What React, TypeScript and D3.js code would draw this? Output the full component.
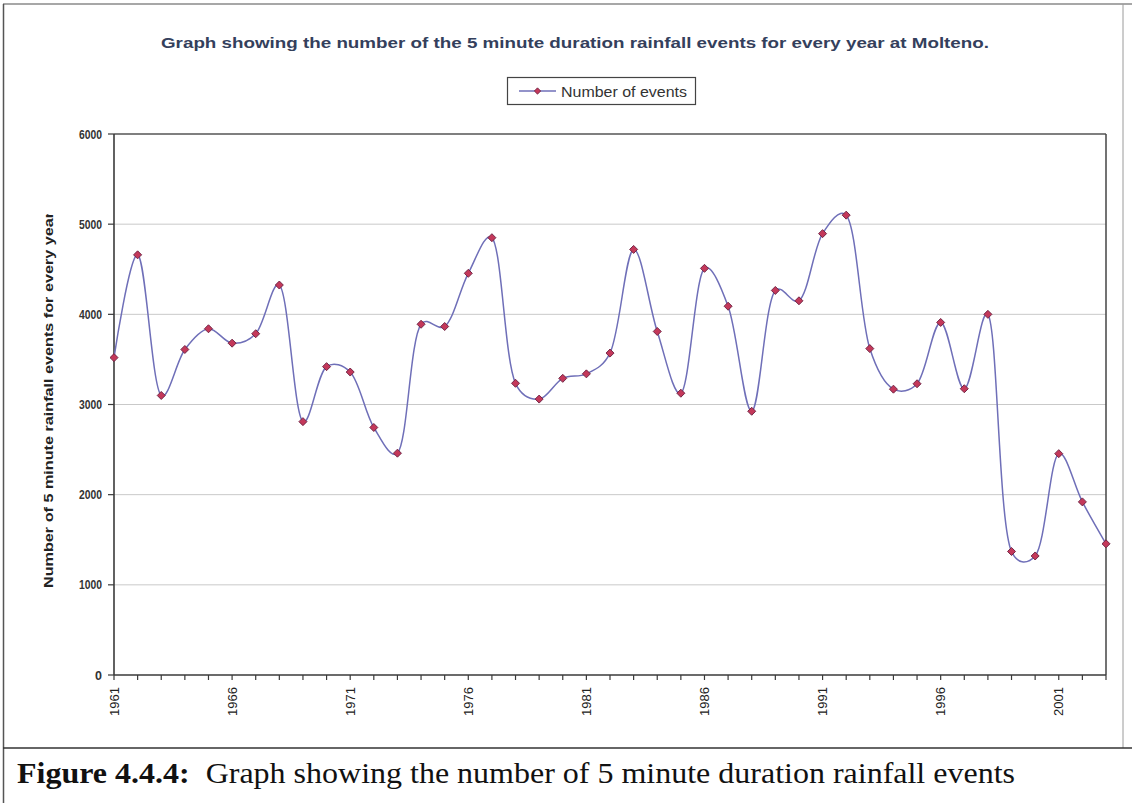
import React from "react";
import * as d3 from "d3";

const years: number[] = [
  1961, 1962, 1963, 1964, 1965, 1966, 1967, 1968, 1969, 1970,
  1971, 1972, 1973, 1974, 1975, 1976, 1977, 1978, 1979, 1980,
  1981, 1982, 1983, 1984, 1985, 1986, 1987, 1988, 1989, 1990,
  1991, 1992, 1993, 1994, 1995, 1996, 1997, 1998, 1999, 2000,
  2001, 2002, 2003,
];
const events: number[] = [
  3520, 4660, 3100, 3610, 3840, 3680, 3785, 4325, 2810, 3420,
  3360, 2745, 2460, 3890, 3865, 4455, 4850, 3235, 3060, 3290,
  3340, 3570, 4720, 3810, 3125, 4510, 4090, 2925, 4265, 4150,
  4895, 5100, 3620, 3170, 3230, 3910, 3175, 4000, 1370, 1320,
  2455, 1920, 1455,
];
const yTicks: number[] = [0, 1000, 2000, 3000, 4000, 5000, 6000];
const xLabelYears: number[] = [1961, 1966, 1971, 1976, 1981, 1986, 1991, 1996, 2001];

const titleText = "Graph showing the number of the 5 minute duration rainfall events for every year at Molteno.";
const legendText = "Number of events";
const yAxisTitle = "Number of 5 minute rainfall events for every year";
const captionBold = "Figure 4.4.4:";
const captionRest = " Graph showing the number of 5 minute duration rainfall events";

const W = 1132;
const H = 803;
const plot = { left: 114, right: 1106, top: 134, bottom: 675 };

const LINE = "#6f6fb8";
const MFILL = "#c4385a";
const MSTROKE = "#6e2343";
const AXIS = "#3a3a3a";
const GRID = "#c9c9c9";
const SANS = "'Liberation Sans', Arial, sans-serif";

export default function App() {
  const x = d3.scaleLinear().domain([years[0], years[years.length - 1]]).range([plot.left, plot.right]);
  const y = d3.scaleLinear().domain([0, 6000]).range([plot.bottom, plot.top]);
  const data = years.map((yr, i) => ({ yr, v: events[i] }));
  const line = d3
    .line<{ yr: number; v: number }>()
    .x((d) => x(d.yr))
    .y((d) => y(d.v))
    .curve(d3.curveCatmullRom.alpha(0.3));
  const marker = d3.symbol().type(d3.symbolSquare).size(32)() as string;
  const legendMarker = d3.symbol().type(d3.symbolSquare).size(20)() as string;

  return (
    <svg
      width={W}
      height={H}
      viewBox={`0 0 ${W} ${H}`}
      style={{ position: "absolute", left: 0, top: 0, background: "#fff" }}
    >
      <defs>
        <clipPath id="ytclip">
          <rect x={0} y={214} width={110} height={400} />
        </clipPath>
      </defs>
      <rect x={0} y={0} width={W} height={H} fill="#fff" />
      {/* outer frame (document table) */}
      <line x1={3} y1={4} x2={W} y2={4} stroke="#8a8a8a" strokeWidth={1.5} />
      <line x1={3.5} y1={4} x2={3.5} y2={H} stroke="#555" strokeWidth={1.5} />
      <line x1={1123} y1={4} x2={1123} y2={748} stroke="#9a9a9a" strokeWidth={1} />
      <line x1={3} y1={748} x2={W} y2={748} stroke="#333" strokeWidth={1.5} />

      {/* title */}
      <text
        x={575}
        y={48}
        textAnchor="middle"
        fontFamily={SANS}
        fontWeight="bold"
        fontSize={15.5}
        fill="#34405c"
        textLength={828}
        lengthAdjust="spacingAndGlyphs"
      >
        {titleText}
      </text>

      {/* legend */}
      <rect x={507.5} y={77.5} width={188} height={27} fill="#fff" stroke="#444" strokeWidth={1.2} />
      <line x1={519} y1={91} x2={556} y2={91} stroke={LINE} strokeWidth={1.3} />
      <path d={legendMarker} transform="translate(537.5,91) rotate(45)" fill={MFILL} stroke={MSTROKE} strokeWidth={0.8} />
      <text
        x={561}
        y={96.5}
        fontFamily={SANS}
        fontSize={15.5}
        fill="#333"
        textLength={126}
        lengthAdjust="spacingAndGlyphs"
      >
        {legendText}
      </text>

      {/* gridlines */}
      {yTicks
        .filter((t) => t > 0 && t < 6000)
        .map((t) => (
          <line key={"g" + t} x1={plot.left} x2={plot.right} y1={y(t)} y2={y(t)} stroke={GRID} strokeWidth={1} />
        ))}

      {/* plot frame */}
      <line x1={plot.left} x2={plot.right} y1={plot.top} y2={plot.top} stroke="#555" strokeWidth={1.3} />
      <line x1={plot.right} x2={plot.right} y1={plot.top} y2={plot.bottom} stroke="#444" strokeWidth={1.5} />

      {/* y axis */}
      <line x1={plot.left} x2={plot.left} y1={plot.top} y2={plot.bottom} stroke={AXIS} strokeWidth={1.6} />
      {yTicks.map((t) => (
        <g key={"yt" + t}>
          <line x1={plot.left - 6} x2={plot.left} y1={y(t)} y2={y(t)} stroke={AXIS} strokeWidth={1.2} />
          <text
            x={plot.left - 12}
            y={y(t) + 4.5}
            textAnchor="end"
            fontFamily={SANS}
            fontWeight="bold"
            fontSize={12.5}
            fill="#333"
            textLength={t === 0 ? undefined : 23}
            lengthAdjust="spacingAndGlyphs"
          >
            {t}
          </text>
        </g>
      ))}

      {/* y axis title */}
      <g clipPath="url(#ytclip)">
        <text
          transform={`translate(53,${400}) rotate(-90)`}
          textAnchor="middle"
          fontFamily={SANS}
          fontWeight="bold"
          fontSize={13.5}
          fill="#222"
          textLength={376}
          lengthAdjust="spacingAndGlyphs"
        >
          {yAxisTitle}
        </text>
      </g>

      {/* x axis */}
      <line x1={plot.left} x2={plot.right} y1={plot.bottom} y2={plot.bottom} stroke={AXIS} strokeWidth={1.6} />
      {years.map((yr) => (
        <line key={"xt" + yr} x1={x(yr)} x2={x(yr)} y1={plot.bottom} y2={plot.bottom + 5} stroke={AXIS} strokeWidth={1.2} />
      ))}
      {xLabelYears.map((yr) => (
        <text
          key={"xl" + yr}
          transform={`translate(${x(yr) + 4.5},${plot.bottom + 12}) rotate(-90)`}
          textAnchor="end"
          fontFamily={SANS}
          fontSize={13}
          fill="#222"
        >
          {yr}
        </text>
      ))}

      {/* series */}
      <path d={line(data) || ""} fill="none" stroke={LINE} strokeWidth={1.5} />
      {data.map((d) => (
        <path
          key={"m" + d.yr}
          d={marker}
          transform={`translate(${x(d.yr)},${y(d.v)}) rotate(45)`}
          fill={MFILL}
          stroke={MSTROKE}
          strokeWidth={0.9}
        />
      ))}

      {/* caption */}
      <text
        x={17}
        y={783}
        fontFamily="'Liberation Serif', 'Times New Roman', serif"
        fontSize={29}
        fill="#111"
        textLength={998}
        lengthAdjust="spacingAndGlyphs"
      >
        <tspan fontWeight="bold">{captionBold}</tspan>
        <tspan>{"\u00a0" + captionRest}</tspan>
      </text>
    </svg>
  );
}
